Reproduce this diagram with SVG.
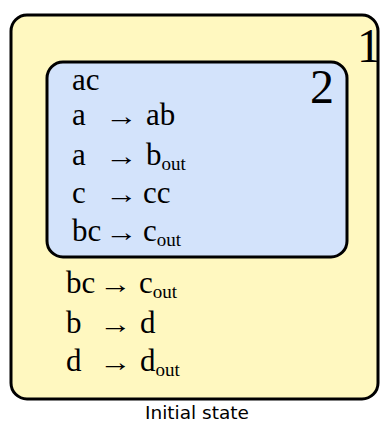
<svg xmlns="http://www.w3.org/2000/svg" width="380" height="423" viewBox="0 0 380 423">
<style>
.box{stroke:#000;stroke-width:3}
.t{font-family:"Liberation Serif","Times New Roman",serif;font-size:31px;fill:#000}
.arr{font-family:"Liberation Serif","Times New Roman",serif;font-size:26px;fill:#000}
.sub{font-size:19px}
.lbl{font-family:"Liberation Serif","Times New Roman",serif;font-size:48px;fill:#000}
.cap{font-family:"DejaVu Sans",sans-serif;font-size:18.5px;fill:#000}
</style>
<rect width="380" height="423" fill="#fff"/>
<g id="membrane1">
<rect class="box" x="11" y="15" width="367" height="384" rx="16" fill="#fff8c0"/>
<text class="lbl" x="357" y="62">1</text>
<text class="t" x="66" y="293">bc</text><text class="arr" transform="translate(99.5,293) scale(1.24,1)">→</text><text class="t" x="139" y="293">c<tspan class="sub" dy="5">out</tspan></text>
<text class="t" x="66" y="333">b</text><text class="arr" transform="translate(99.5,333) scale(1.24,1)">→</text><text class="t" x="140" y="333">d</text>
<text class="t" x="66" y="371">d</text><text class="arr" transform="translate(99.5,371) scale(1.24,1)">→</text><text class="t" x="140" y="371">d<tspan class="sub" dy="5">out</tspan></text>
</g>
<g id="membrane2">
<rect class="box" x="47" y="62" width="300" height="195" rx="16" fill="#d3e3fb"/>
<text class="lbl" x="310" y="103">2</text>
<text class="t" x="72" y="90">ac</text>
<text class="t" x="72" y="125">a</text><text class="arr" transform="translate(105.5,125) scale(1.24,1)">→</text><text class="t" x="146" y="125">ab</text>
<text class="t" x="72" y="165">a</text><text class="arr" transform="translate(105.5,165) scale(1.24,1)">→</text><text class="t" x="146" y="165">b<tspan class="sub" dy="5">out</tspan></text>
<text class="t" x="72" y="203">c</text><text class="arr" transform="translate(105.5,203) scale(1.24,1)">→</text><text class="t" x="143" y="203">cc</text>
<text class="t" x="72" y="241">bc</text><text class="arr" transform="translate(105.5,241) scale(1.24,1)">→</text><text class="t" x="143" y="241">c<tspan class="sub" dy="5">out</tspan></text>
</g>
<g id="connectors"/>
<text class="cap" x="197" y="419" text-anchor="middle">Initial state</text>
</svg>
